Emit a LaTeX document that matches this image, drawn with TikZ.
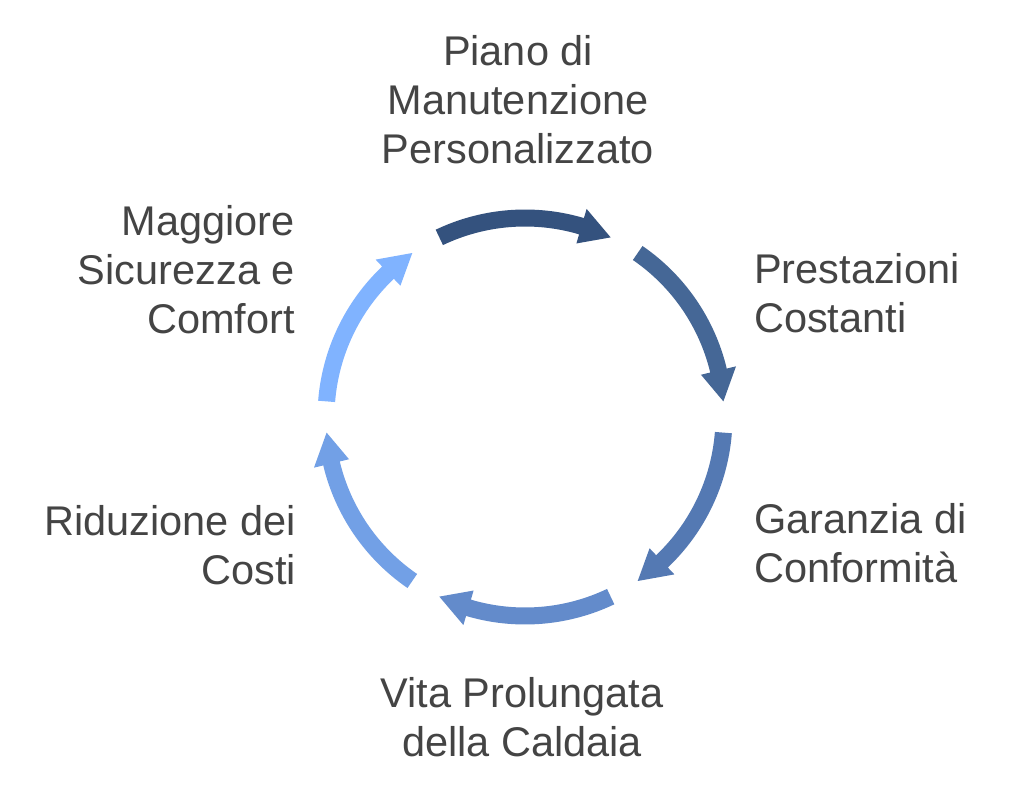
\documentclass[tikz,border=0pt]{standalone}
\usepackage{fontspec}
\setmainfont{Liberation Sans}
\definecolor{txt}{HTML}{444444}
\definecolor{ca}{HTML}{34527E}
\definecolor{cb}{HTML}{456796}
\definecolor{cc}{HTML}{5479B3}
\definecolor{cd}{HTML}{638BCB}
\definecolor{ce}{HTML}{72A0E6}
\definecolor{cf}{HTML}{80B3FF}
\tikzset{
  lbl/.style={font=\fontsize{41.5}{49}\selectfont, text=txt, inner sep=0pt},
}
\begin{document}
\begin{tikzpicture}[x=1pt,y=1pt]
\useasboundingbox (-525,-375) rectangle (499,417);
\fill[white] (-525,-375) rectangle (499,417);
\def\Ro{207.5}\def\Ri{190.5}\def\Rm{199}\def\Hout{217}\def\Hin{181}
\foreach \c/\col in {90/ca, 30/cb, -30/cc, -90/cd, -150/ce, 150/cf} {
  \pgfmathsetmacro\s{\c+25.5}
  \pgfmathsetmacro\t{\c-25.5}
  \pgfmathsetmacro\b{\t+9}
  \fill[\col] (\s:\Ro) arc[start angle=\s, end angle=\b, radius=\Ro]
    -- (\b:\Hout) -- (\t:\Rm) -- (\b:\Hin) -- (\b:\Ri)
    arc[start angle=\b, end angle=\s, radius=\Ri] -- cycle;
}
\node[lbl, align=center, anchor=north] (piano) at (-7,382) {Piano di\\Manutenzione\\Personalizzato};
\node[lbl, align=left, anchor=north west] (prest) at (229,164) {Prestazioni\\Costanti};
\node[lbl, align=left, anchor=north west] (garanz) at (229,-86) {Garanzia di\\Conformità};
\node[lbl, align=center, anchor=north] (vita) at (-3,-260) {Vita Prolungata\\della Caldaia};
\node[lbl, align=right, anchor=north east] (riduz) at (-229,-88) {Riduzione dei\\Costi};
\node[lbl, align=right, anchor=north east] (magg) at (-230,212) {Maggiore\\Sicurezza e\\Comfort};
\end{tikzpicture}
\end{document}
